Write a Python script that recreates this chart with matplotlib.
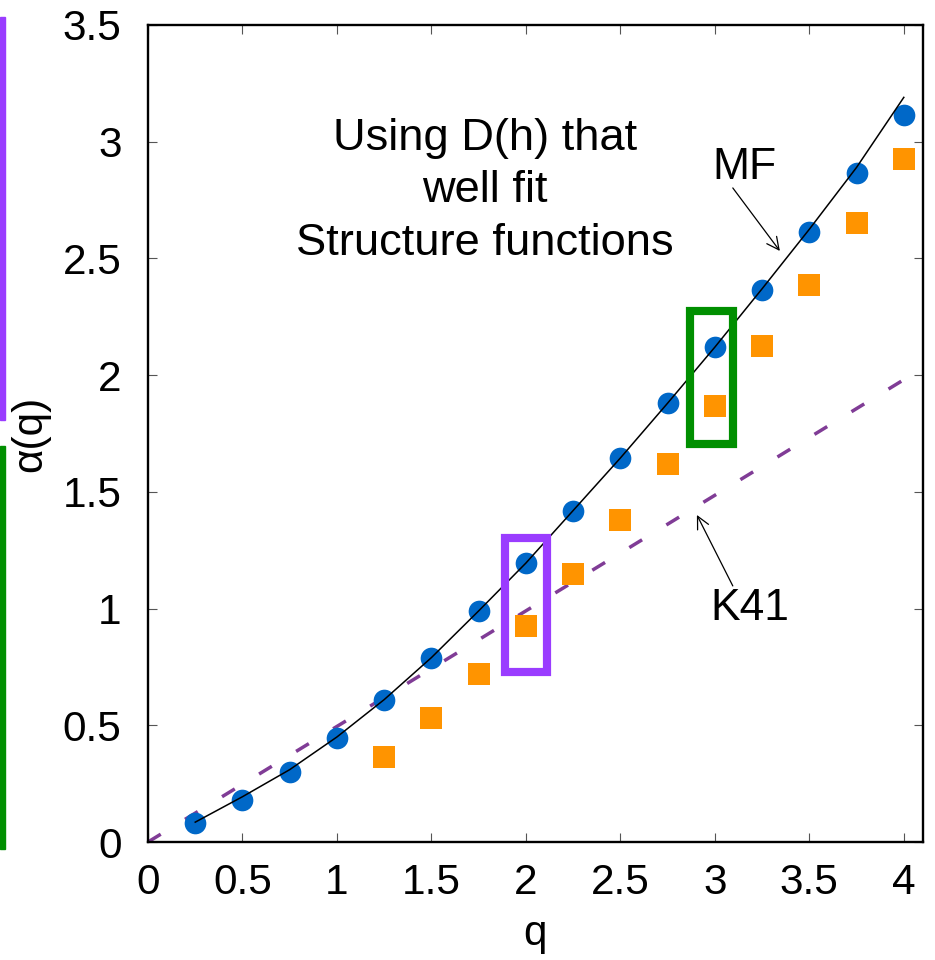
import matplotlib
matplotlib.use("Agg")
import matplotlib.pyplot as plt
from matplotlib.patches import Rectangle

plt.rcParams['font.family'] = ['Liberation Sans', 'DejaVu Sans']

# ---- data ----
q_mf = [0.25, 0.5, 0.75, 1.0, 1.25, 1.5, 1.75, 2.0, 2.25, 2.5, 2.75, 3.0, 3.25, 3.5, 3.75, 4.0]
alpha_mf = [0.08, 0.178, 0.30, 0.445, 0.61, 0.79, 0.99, 1.195, 1.42, 1.645, 1.88, 2.12, 2.365, 2.615, 2.865, 3.115]

q_sf = [1.25, 1.5, 1.75, 2.0, 2.25, 2.5, 2.75, 3.0, 3.25, 3.5, 3.75, 4.0]
alpha_sf = [0.365, 0.53, 0.72, 0.925, 1.148, 1.38, 1.62, 1.868, 2.125, 2.385, 2.652, 2.926]

q_line = [0.25, 0.5, 0.75, 1.0, 1.25, 1.5, 1.75, 2.0, 2.25, 2.5, 2.75, 3.0, 3.25, 3.5, 3.75, 4.0]
alpha_line = [0.085, 0.194, 0.31, 0.45, 0.61, 0.79, 0.99, 1.195, 1.42, 1.645, 1.88, 2.12, 2.37, 2.625, 2.89, 3.19]

q_k41 = [0.0, 4.1]
alpha_k41 = [0.0, 2.03]

xticks = [0, 0.5, 1, 1.5, 2, 2.5, 3, 3.5, 4]
xticklabels = ['0', '0.5', '1', '1.5', '2', '2.5', '3', '3.5', '4']
yticks = [0, 0.5, 1, 1.5, 2, 2.5, 3, 3.5]
yticklabels = ['0', '0.5', '1', '1.5', '2', '2.5', '3', '3.5']

# boxes: (q_min, q_max, a_min, a_max)
box_purple = (1.887, 2.111, 0.73, 1.302)
box_green = (2.87, 3.096, 1.704, 2.276)

fig = plt.figure(figsize=(9.35, 9.6), dpi=100)
ax = fig.add_axes([148/935, 1-842/960, (922.7-148)/935, (842-25)/960])

ax.plot(q_k41, alpha_k41, color='#803c96', lw=2.5, dashes=(4.3, 8.2), zorder=2)
ax.plot(q_line, alpha_line, color='black', lw=1.1, zorder=4)
ax.plot(q_mf, alpha_mf, 'o', color='#0068c8', ms=15.6, mew=0, zorder=3)
ax.plot(q_sf, alpha_sf, 's', color='#ff9400', ms=16.0, mew=0, zorder=3)

for (x0, x1, y0, y1), col in [(box_purple, '#9a3cff'), (box_green, '#008f00')]:
    ax.add_patch(Rectangle((x0, y0), x1-x0, y1-y0, fill=False, edgecolor=col, lw=5.9, zorder=5))

ax.set_xlim(0, 4.1)
ax.set_ylim(0, 3.5)
ax.set_xticks(xticks)
ax.set_xticklabels(xticklabels)
ax.set_yticks(yticks)
ax.set_yticklabels(yticklabels)
ax.tick_params(direction='in', top=True, right=True, length=6.5, width=0.8, color='#555555',
               labelsize=30.5)
ax.tick_params(axis='y', pad=19)
ax.tick_params(axis='x', pad=15)
for s in ax.spines.values():
    s.set_linewidth(1.7)

ax.set_xlabel('q', fontsize=30.5, labelpad=8)
ax.set_ylabel('α(q)', fontsize=30.5, labelpad=9)

ax.text(1.785, 2.79, 'Using D(h) that\nwell fit\nStructure functions', fontsize=32.6, ha='center',
        va='center', linespacing=1.36)

ax.text(3.155, 2.89, 'MF', fontsize=32, ha='center', va='center')
ax.annotate('', xy=(3.344, 2.532), xytext=(3.095, 2.802),
            arrowprops=dict(arrowstyle='->', color='black', lw=0.9, shrinkA=0, shrinkB=0,
                            mutation_scale=22))
ax.text(3.185, 1.0, 'K41', fontsize=32, ha='center', va='center')
ax.annotate('', xy=(2.905, 1.401), xytext=(3.095, 1.097),
            arrowprops=dict(arrowstyle='->', color='black', lw=0.9, shrinkA=0, shrinkB=0,
                            mutation_scale=22))

# colored bars at the left edge
fig.patches.append(Rectangle((0, 1-420/960), 5/935, (420-17)/960, transform=fig.transFigure,
                             color='#9a3cff', zorder=0))
fig.patches.append(Rectangle((0, 1-849/960), 5/935, (849-446)/960, transform=fig.transFigure,
                             color='#008f00', zorder=0))

fig.savefig('out.png', dpi=100)
